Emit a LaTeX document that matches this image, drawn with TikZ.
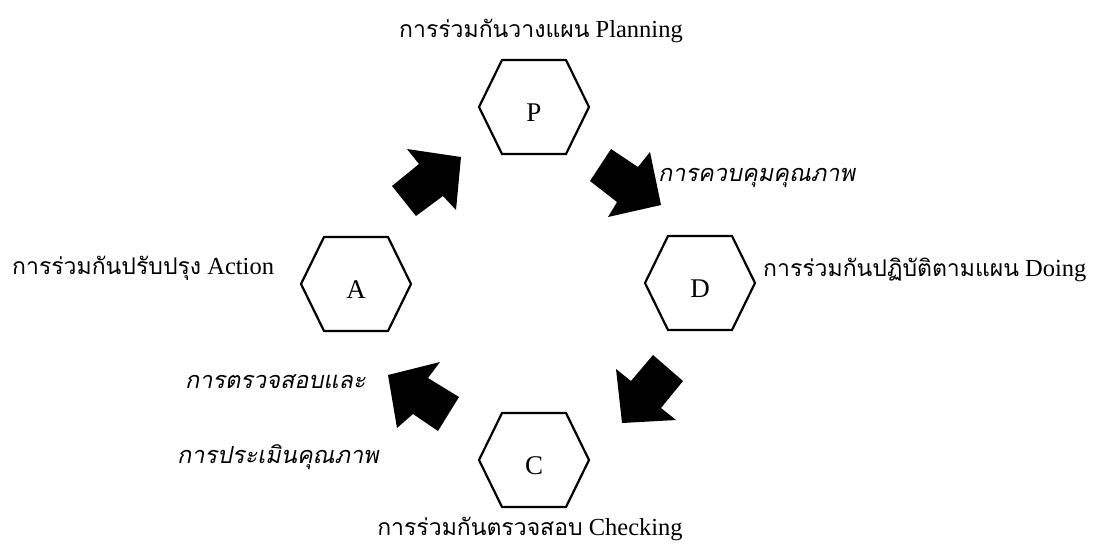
\documentclass[tikz,border=0pt]{standalone}
\usepackage{fontspec}
\setmainfont{Liberation Serif}
\newfontfamily\thaifont[Script=Thai]{Loma}
\newfontfamily\thaiitfont[Script=Thai,FakeSlant=0.2]{Loma}
\newcommand\tht[1]{{\thaifont\fontsize{23}{27}\selectfont #1}}
\newcommand\thi[1]{{\thaiitfont\fontsize{23.5}{28}\selectfont #1}}
\tikzset{
  hexagon/.pic={\draw[line width=2.2pt, line join=miter] (-55,0) -- (-32,-47) -- (32,-47) -- (55,0) -- (32,47) -- (-32,47) -- cycle;},
  letter/.style={inner sep=0pt, font=\fontsize{27}{30}\selectfont},
  label/.style={inner sep=0pt, font=\fontsize{24.5}{28}\selectfont},
  blockarrow/.style={fill=black, draw=none}
}
\begin{document}
\begin{tikzpicture}[x=1pt,y=-1pt]
\useasboundingbox (0,0) rectangle (1101,547);
% hexagons
\pic at (534,107) {hexagon};
\pic at (356,284) {hexagon};
\pic at (700,283) {hexagon};
\pic at (534,460) {hexagon};
\node[letter] (P) at (534,113) {P};
\node[letter] (A) at (356,290) {A};
\node[letter] (D) at (700,289) {D};
\node[letter] (C) at (534,466) {C};
% labels
\node[label, anchor=base] (lp) at (541,37) {\tht{การร่วมกันวางแผน} Planning};
\node[label, anchor=base west] (la) at (12,274) {\tht{การร่วมกันปรับปรุง} Action};
\node[label, anchor=base west] (ld) at (763,276) {\tht{การร่วมกันปฏิบัติตามแผน} Doing};
\node[label, anchor=base] (lc) at (530,535) {\tht{การร่วมกันตรวจสอบ} Checking};
\node[label, anchor=base west] (q1) at (658,181) {\thi{การควบคุมคุณภาพ}};
\node[label, anchor=base west] (q2) at (185,388) {\thi{การตรวจสอบและ}};
\node[label, anchor=base west] (q3) at (177,463) {\thi{การประเมินคุณภาพ}};
% block arrows
\fill[blockarrow] (392,186) -- (419,164) -- (407,149) -- (461,157) -- (456,210) -- (443,196) -- (416,216) -- cycle;
\fill[blockarrow] (611,149) -- (638,167) -- (650,152) -- (661,205) -- (608,217) -- (617,202) -- (590,181) -- cycle;
\fill[blockarrow] (653,355) -- (683,381) -- (661,408) -- (676,420) -- (622,423) -- (616,369) -- (631,381) -- cycle;
\fill[blockarrow] (459,397) -- (438,431) -- (413,414) -- (397,428) -- (388,375) -- (440,362) -- (428,378) -- cycle;
\end{tikzpicture}
\end{document}
